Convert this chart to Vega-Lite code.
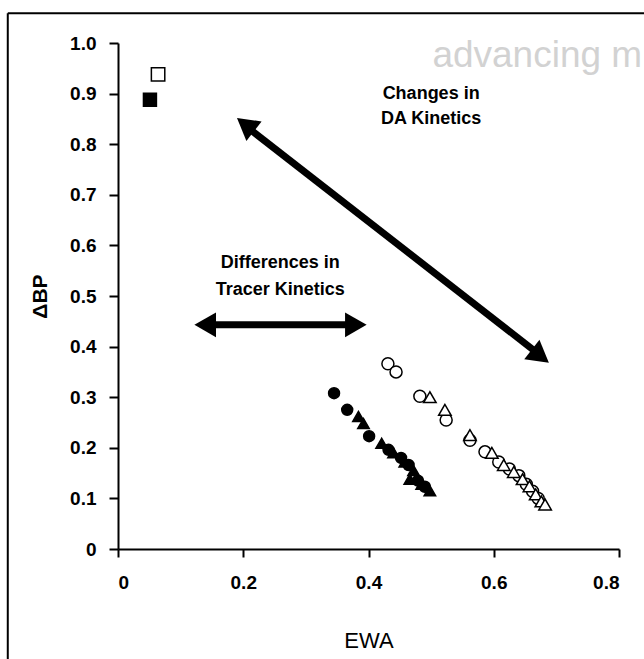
{
  "$schema": "https://vega.github.io/schema/vega-lite/v6.json",
  "width": 501,
  "height": 506,
  "autosize": {"type": "none"},
  "padding": {"left": 118, "top": 43, "right": 25, "bottom": 110},
  "background": "white",
  "config": {"view": {"stroke": null}, "font": "Liberation Sans"},
  "datasets": {
    "points": [
      {"EWA": 0.051, "dBP": 0.888, "set": "E"},
      {"EWA": 0.064, "dBP": 0.938, "set": "F"},
      {"EWA": 0.345, "dBP": 0.308, "set": "A"},
      {"EWA": 0.366, "dBP": 0.275, "set": "A"},
      {"EWA": 0.401, "dBP": 0.223, "set": "A"},
      {"EWA": 0.432, "dBP": 0.196, "set": "A"},
      {"EWA": 0.452, "dBP": 0.18, "set": "A"},
      {"EWA": 0.464, "dBP": 0.166, "set": "A"},
      {"EWA": 0.479, "dBP": 0.135, "set": "A"},
      {"EWA": 0.49, "dBP": 0.123, "set": "A"},
      {"EWA": 0.384, "dBP": 0.262, "set": "B"},
      {"EWA": 0.392, "dBP": 0.248, "set": "B"},
      {"EWA": 0.421, "dBP": 0.209, "set": "B"},
      {"EWA": 0.44, "dBP": 0.19, "set": "B"},
      {"EWA": 0.458, "dBP": 0.172, "set": "B"},
      {"EWA": 0.472, "dBP": 0.155, "set": "B"},
      {"EWA": 0.466, "dBP": 0.138, "set": "B"},
      {"EWA": 0.485, "dBP": 0.128, "set": "B"},
      {"EWA": 0.498, "dBP": 0.115, "set": "B"},
      {"EWA": 0.431, "dBP": 0.366, "set": "C"},
      {"EWA": 0.444, "dBP": 0.35, "set": "C"},
      {"EWA": 0.482, "dBP": 0.302, "set": "C"},
      {"EWA": 0.524, "dBP": 0.255, "set": "C"},
      {"EWA": 0.562, "dBP": 0.215, "set": "C"},
      {"EWA": 0.586, "dBP": 0.192, "set": "C"},
      {"EWA": 0.608, "dBP": 0.172, "set": "C"},
      {"EWA": 0.625, "dBP": 0.158, "set": "C"},
      {"EWA": 0.64, "dBP": 0.145, "set": "C"},
      {"EWA": 0.652, "dBP": 0.128, "set": "C"},
      {"EWA": 0.662, "dBP": 0.114, "set": "C"},
      {"EWA": 0.671, "dBP": 0.1, "set": "C"},
      {"EWA": 0.498, "dBP": 0.3, "set": "D"},
      {"EWA": 0.522, "dBP": 0.275, "set": "D"},
      {"EWA": 0.562, "dBP": 0.225, "set": "D"},
      {"EWA": 0.597, "dBP": 0.19, "set": "D"},
      {"EWA": 0.616, "dBP": 0.166, "set": "D"},
      {"EWA": 0.632, "dBP": 0.152, "set": "D"},
      {"EWA": 0.646, "dBP": 0.138, "set": "D"},
      {"EWA": 0.657, "dBP": 0.124, "set": "D"},
      {"EWA": 0.667, "dBP": 0.108, "set": "D"},
      {"EWA": 0.676, "dBP": 0.094, "set": "D"},
      {"EWA": 0.682, "dBP": 0.088, "set": "D"}
    ],
    "arrows": [
      {"name": "da", "x1": 0.207, "y1": 0.833, "x2": 0.67, "y2": 0.387},
      {"name": "tracer", "x1": 0.145, "y1": 0.443, "x2": 0.374, "y2": 0.443}
    ],
    "heads": [
      {"x": 0.19, "y": 0.852, "angle": 308},
      {"x": 0.688, "y": 0.368, "angle": 128},
      {"x": 0.122, "y": 0.443, "angle": 270},
      {"x": 0.397, "y": 0.443, "angle": 90}
    ],
    "labels": [
      {"x": 0.5, "y": 0.9, "text": "Changes in"},
      {"x": 0.5, "y": 0.85, "text": "DA Kinetics"},
      {"x": 0.259, "y": 0.565, "text": "Differences in"},
      {"x": 0.259, "y": 0.512, "text": "Tracer Kinetics"}
    ],
    "frame": [
      {"x": -0.176, "x2": 1.3, "y": 1.059, "y2": -0.5}
    ],
    "watermark": [
      {"x": 0.502, "y": 0.952, "text": "advancing m"}
    ]
  },
  "layer": [
    {
      "data": {"name": "frame"},
      "mark": {"type": "rule", "color": "black", "strokeWidth": 2, "clip": false},
      "encoding": {
        "x": {"field": "x", "type": "quantitative", "scale": {"domain": [0, 0.8], "nice": false, "zero": false}},
        "x2": {"field": "x2"},
        "y": {"field": "y", "type": "quantitative", "scale": {"domain": [0, 1], "nice": false, "zero": false}}
      }
    },
    {
      "data": {"name": "frame"},
      "mark": {"type": "rule", "color": "black", "strokeWidth": 2, "clip": false},
      "encoding": {
        "x": {"field": "x", "type": "quantitative"},
        "y": {"field": "y", "type": "quantitative"},
        "y2": {"field": "y2"}
      }
    },
    {
      "data": {"name": "watermark"},
      "mark": {"type": "text", "align": "left", "baseline": "alphabetic", "color": "#d2d2d2", "fontSize": 37, "font": "Liberation Sans", "clip": false},
      "encoding": {
        "x": {"field": "x", "type": "quantitative"},
        "y": {"field": "y", "type": "quantitative"},
        "text": {"field": "text"}
      }
    },
    {
      "data": {"name": "points"},
      "mark": {"type": "point", "filled": false, "stroke": "black", "strokeWidth": 1.5, "opacity": 1},
      "encoding": {
        "x": {
          "field": "EWA", "type": "quantitative",
          "axis": {
            "title": "EWA", "values": [0, 0.2, 0.4, 0.6, 0.8],
            "labelExpr": "datum.value == 0 ? '0' : format(datum.value, '.1f')",
            "grid": false, "domainColor": "black", "domainWidth": 2, "tickColor": "black", "tickWidth": 2, "tickSize": 8,
            "labelFont": "Liberation Sans", "labelFontWeight": "bold", "labelFontSize": 19, "labelColor": "black", "labelPadding": 16,
            "titleFont": "Liberation Sans", "titleFontWeight": "normal", "titleFontSize": 22, "titleColor": "black", "titlePadding": 38
          }
        },
        "y": {
          "field": "dBP", "type": "quantitative",
          "axis": {
            "title": "ΔBP", "values": [0, 0.1, 0.2, 0.3, 0.4, 0.5, 0.6, 0.7, 0.8, 0.9, 1.0],
            "labelExpr": "datum.value == 0 ? '0' : format(datum.value, '.1f')",
            "grid": false, "domainColor": "black", "domainWidth": 2, "tickColor": "black", "tickWidth": 2, "tickSize": 9,
            "labelFont": "Liberation Sans", "labelFontWeight": "bold", "labelFontSize": 19, "labelColor": "black", "labelPadding": 13,
            "titleFont": "Liberation Sans", "titleFontWeight": "bold", "titleFontSize": 21, "titleColor": "black", "titlePadding": 19
          }
        },
        "shape": {
          "field": "set", "type": "nominal", "legend": null,
          "scale": {"domain": ["A", "B", "C", "D", "E", "F"], "range": ["circle", "triangle-up", "circle", "triangle-up", "square", "square"]}
        },
        "fill": {
          "field": "set", "type": "nominal", "legend": null,
          "scale": {"domain": ["A", "B", "C", "D", "E", "F"], "range": ["black", "black", "white", "white", "black", "white"]}
        },
        "size": {
          "field": "set", "type": "nominal", "legend": null,
          "scale": {"domain": ["A", "B", "C", "D", "E", "F"], "range": [120, 180, 110, 170, 100, 100]}
        }
      }
    },
    {
      "data": {"name": "arrows"},
      "mark": {"type": "rule", "color": "black", "strokeWidth": 7, "strokeCap": "butt"},
      "encoding": {
        "x": {"field": "x1", "type": "quantitative"},
        "y": {"field": "y1", "type": "quantitative"},
        "x2": {"field": "x2"},
        "y2": {"field": "y2"}
      }
    },
    {
      "data": {"name": "heads"},
      "mark": {"type": "point", "shape": "M0,0L0.8,1.4L-0.8,1.4Z", "filled": true, "color": "black", "size": 950, "opacity": 1},
      "encoding": {
        "x": {"field": "x", "type": "quantitative"},
        "y": {"field": "y", "type": "quantitative"},
        "angle": {"field": "angle", "type": "quantitative", "scale": null}
      }
    },
    {
      "data": {"name": "labels"},
      "mark": {"type": "text", "align": "center", "baseline": "middle", "font": "Liberation Sans", "fontWeight": "bold", "fontSize": 18, "color": "black"},
      "encoding": {
        "x": {"field": "x", "type": "quantitative"},
        "y": {"field": "y", "type": "quantitative"},
        "text": {"field": "text"}
      }
    }
  ]
}
